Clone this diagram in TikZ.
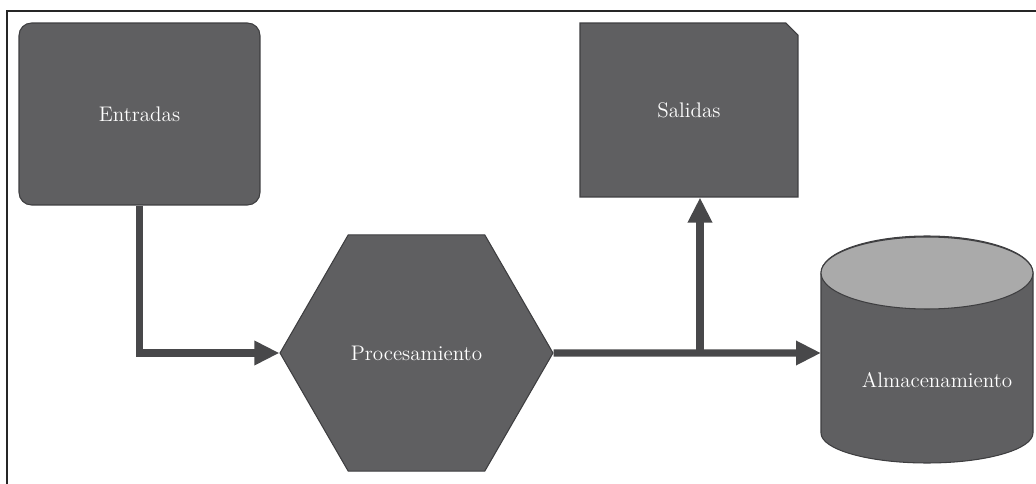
\documentclass[tikz,border=0pt]{standalone}
\usetikzlibrary{arrows.meta,calc,positioning,shapes.geometric,shapes.misc}

\definecolor{shapegray}{RGB}{95,95,97}
\definecolor{lidgray}{RGB}{170,170,170}
\definecolor{edgegray}{RGB}{62,62,64}
\definecolor{linegray}{RGB}{72,72,74}

\begin{document}
\begin{tikzpicture}[x=0.02cm, y=0.02cm, >={Triangle[length=0.5cm, width=0.46cm]}]

% styles
\tikzset{
  txt/.style={text=white, font=\fontsize{12}{14}\selectfont},
  block/.style={txt, fill=shapegray, draw=edgegray, line width=0.6pt},
  flow/.style={->, draw=linegray, line width=4pt},
  frame/.style={draw=black!85, line width=1.4pt},
}

\useasboundingbox (0,0) rectangle (1036,484);

% outer frame (top and left edge)
\draw[frame] (7,0) |- (1036,473);

% input
\node[block, rounded corners=0.25cm, minimum width=4.82cm, minimum height=3.64cm] (entradas) at (139.5,370) {Entradas};

% output, one clipped corner
\node[block, chamfered rectangle, chamfered rectangle corners=north east,
  chamfered rectangle xsep=0.14cm, minimum width=4.36cm, minimum height=3.48cm] (salidas) at (689,374) {Salidas};

% process
\node[block, regular polygon, regular polygon sides=6, minimum size=5.46cm, inner sep=0pt] (proc) at (416.5,131) {Procesamiento};

% storage cylinder
\coordinate (cyl) at (927,131);
\filldraw[fill=shapegray, draw=edgegray, line width=0.6pt]
  ($(cyl)+(-106,80)$) -- ++(0,-160)
  arc[start angle=180, end angle=360, x radius=106, y radius=30]
  -- ++(0,160)
  arc[start angle=0, end angle=180, x radius=106, y radius=37] -- cycle;
\filldraw[fill=lidgray, draw=edgegray, line width=0.6pt] ($(cyl)+(0,80)$) ellipse[x radius=106, y radius=36];
\node[txt] (alm) at (937,104) {Almacenamiento};
\coordinate (alm-in) at ($(cyl)+(-106,0)$);

% connectors
\coordinate (split) at (700,131);
\draw[flow] (entradas.south) |- (proc.west);
\draw[flow] (proc.east) -- (alm-in);
\draw[flow] (split) -- (split |- salidas.south);

\end{tikzpicture}
\end{document}
